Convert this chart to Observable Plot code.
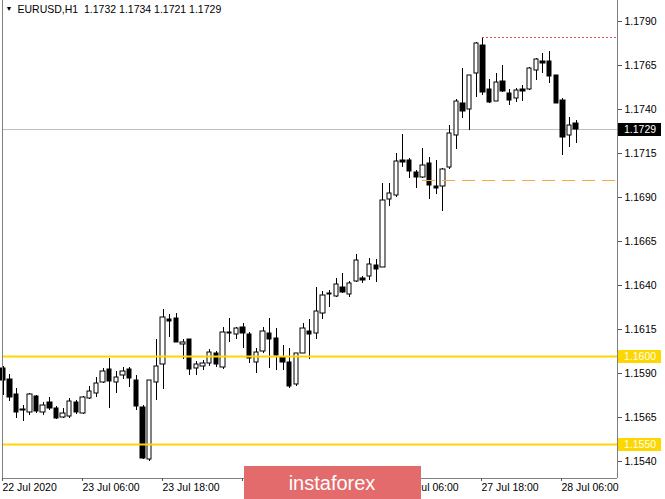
<!DOCTYPE html>
<html>
<head>
<meta charset="utf-8">
<script src="https://cdn.jsdelivr.net/npm/d3@7"></script>
<script src="https://cdn.jsdelivr.net/npm/@observablehq/plot@0.6"></script>
<style>
  html, body { margin: 0; padding: 0; background: #fff; }
  #chart svg { display: block; }
</style>
</head>
<body>
<div id="chart"></div>
<script>
// EURUSD H1 bars, 22 Jul 2020 18:00 -> 28 Jul 2020 08:00 (87 bars)
const open = [
  1.15929,1.15867,1.15781,1.15690,1.15679,1.15770,1.15679,1.15735,1.15701,1.15651,
  1.15656,1.15735,1.15673,1.15758,1.15787,1.15849,1.15923,1.15849,1.15889,1.15923,
  1.15861,1.15707,1.15412,1.15849,1.15952,1.16207,1.16213,1.16065,1.16094,1.15929,
  1.15941,1.15957,1.16014,1.15935,1.16128,1.16122,1.16162,1.16122,1.15963,1.16026,
  1.16128,1.16099,1.15991,1.15963,1.15838,1.16014,1.16139,1.16128,1.16241,1.16349,
  1.16338,1.16389,1.16349,1.16423,1.16440,1.16451,1.16514,1.16503,1.16889,1.16912,
  1.17110,1.17110,1.17042,1.17014,1.17093,1.16963,1.16963,1.17071,1.17252,1.17434,
  1.17400,1.17605,1.17764,1.17514,1.17446,1.17559,1.17491,1.17463,1.17514,1.17514,
  1.17622,1.17673,1.17673,1.17593,1.17451,1.17252,1.17320
];
const high = [
  1.15941,1.15895,1.15815,1.15718,1.15787,1.15776,1.15735,1.15764,1.15713,1.15701,
  1.15758,1.15747,1.15770,1.15827,1.15878,1.15929,1.15985,1.15912,1.15935,1.15935,
  1.15889,1.15718,1.15861,1.16094,1.16264,1.16236,1.16241,1.16094,1.16094,1.15969,
  1.15974,1.16037,1.16026,1.16162,1.16213,1.16162,1.16185,1.16134,1.16043,1.16162,
  1.16213,1.16156,1.16060,1.16043,1.16014,1.16185,1.16207,1.16389,1.16366,1.16372,
  1.16440,1.16468,1.16423,1.16576,1.16451,1.16554,1.16548,1.16980,1.16980,1.17150,
  1.17258,1.17122,1.17054,1.17178,1.17127,1.17110,1.17065,1.17309,1.17457,1.17633,
  1.17593,1.17781,1.17809,1.17571,1.17605,1.17650,1.17514,1.17519,1.17536,1.17639,
  1.17690,1.17718,1.17729,1.17593,1.17463,1.17355,1.17340
];
const low = [
  1.15776,1.15741,1.15645,1.15628,1.15662,1.15673,1.15662,1.15690,1.15639,1.15645,
  1.15645,1.15667,1.15667,1.15752,1.15764,1.15844,1.15701,1.15787,1.15867,1.15821,
  1.15690,1.15412,1.15401,1.15747,1.15810,1.16105,1.16077,1.15980,1.15889,1.15889,
  1.15918,1.15941,1.15935,1.15923,1.16077,1.16094,1.16043,1.15957,1.15900,1.16014,
  1.15929,1.15918,1.15918,1.15815,1.15827,1.16014,1.15980,1.16094,1.16207,1.16276,
  1.16332,1.16355,1.16332,1.16417,1.16412,1.16429,1.16417,1.16503,1.16849,1.16900,
  1.17071,1.17008,1.16951,1.17008,1.16889,1.16917,1.16821,1.17059,1.17173,1.17349,
  1.17281,1.17468,1.17480,1.17434,1.17446,1.17497,1.17423,1.17440,1.17446,1.17508,
  1.17565,1.17605,1.17548,1.17434,1.17139,1.17184,1.17210
];
const close = [
  1.15861,1.15764,1.15679,1.15696,1.15781,1.15684,1.15718,1.15701,1.15645,1.15673,
  1.15741,1.15679,1.15764,1.15798,1.15844,1.15912,1.15855,1.15878,1.15912,1.15872,
  1.15713,1.15418,1.15861,1.15941,1.16219,1.16196,1.16077,1.16077,1.15923,1.15952,
  1.15957,1.16020,1.15952,1.16134,1.16134,1.16156,1.16128,1.15985,1.16020,1.16139,
  1.16094,1.16003,1.15963,1.15827,1.16014,1.16156,1.16122,1.16253,1.16344,1.16355,
  1.16406,1.16361,1.16412,1.16542,1.16429,1.16520,1.16491,1.16883,1.16923,1.17105,
  1.17099,1.17048,1.17014,1.17082,1.16969,1.16951,1.17059,1.17264,1.17446,1.17389,
  1.17593,1.17775,1.17497,1.17440,1.17553,1.17502,1.17451,1.17508,1.17502,1.17633,
  1.17684,1.17661,1.17588,1.17434,1.17241,1.17309,1.17290
];

// time axis labels (bar index -> label); 24 Jul labels sit under the watermark
const timeTickBars = [0, 12, 24, 36, 48, 60, 72, 84];
const timeLabels = ["22 Jul 2020","23 Jul 06:00","23 Jul 18:00","","","27 Jul 06:00","27 Jul 18:00","28 Jul 06:00"];
// price axis ticks
const priceTicks = [1.1540,1.1565,1.1590,1.1615,1.1640,1.1665,1.1690,1.1715,1.1740,1.1765,1.1790];
// horizontal levels
const goldLevels = [1.1600, 1.1550];
const bidLevel = 1.1729;
const dashedLevel = {price: 1.1700, fromBar: 63};
const dottedLevel = {price: 1.1781, fromBar: 72};
const titleText = "EURUSD,H1  1.1732 1.1734 1.1721 1.1729";

const candles = open.map((o, i) => ({i, open: o, high: high[i], low: low[i], close: close[i]}));
const xDomain = [-0.1, 92.2];
const yDomain = [1.15305, 1.1802];
const labelByBar = new Map(timeTickBars.map((b, k) => [b, timeLabels[k]]));

const chart = Plot.plot({
  width: 665,
  height: 499,
  marginTop: 0,
  marginLeft: 2,
  marginRight: 48,
  marginBottom: 21,
  style: {fontFamily: "'Liberation Sans', Arial, sans-serif", fontSize: "10.5px", background: "#fff", color: "#000"},
  x: {domain: xDomain, round: true, axis: null},
  y: {domain: yDomain, round: true, axis: null},
  marks: [
    Plot.ruleY([bidLevel], {stroke: "#c0c0c0", strokeWidth: 1}),
    Plot.ruleX(candles, {x: "i", y1: "low", y2: "high", stroke: "#000", strokeWidth: 1}),
    Plot.rect(candles, {
      x1: d => d.i - 0.33, x2: d => d.i + 0.33,
      y1: "open", y2: "close",
      fill: d => d.close < d.open ? "#000" : "#fff",
      stroke: "#000", strokeWidth: 1
    }),
    Plot.ruleY(goldLevels, {stroke: "#ffd700", strokeWidth: 2}),
    Plot.ruleY([dashedLevel], {y: "price", x1: "fromBar", x2: () => xDomain[1], stroke: "#f5a742", strokeWidth: 1, strokeDasharray: "13,7"}),
    Plot.ruleY([dottedLevel], {y: "price", x1: "fromBar", x2: () => xDomain[1], stroke: "#e8504a", strokeWidth: 1, strokeDasharray: "2,2"}),
    Plot.ruleX([xDomain[0], xDomain[1]], {stroke: "#808080"}),
    Plot.ruleY([yDomain[0]], {stroke: "#808080"}),
    Plot.axisY({anchor: "right", ticks: priceTicks, tickFormat: d => d.toFixed(4), tickSize: 4, tickPadding: 3, stroke: "#555"}),
    Plot.axisX({anchor: "bottom", ticks: timeTickBars, tickFormat: d => labelByBar.get(d), tickSize: 3, tickPadding: 2, textAnchor: "start", dx: -1, stroke: "#555"}),
    Plot.text([titleText], {frameAnchor: "top-left", dx: 15, dy: 5, textAnchor: "start", lineAnchor: "top", fontSize: 10.5, fill: "#000"}),
    Plot.text(["▼"], {frameAnchor: "top-left", dx: 3, dy: 6, textAnchor: "start", lineAnchor: "top", fontSize: 7, fill: "#000"})
  ]
});

document.getElementById("chart").appendChild(chart);

// price label boxes on the right axis, positioned with the plot's y scale
const ys = chart.scale("y");
const yPix = ys.apply ? (v => ys.apply(v)) : d3.scaleLinear(ys.domain, ys.range);
const svg = d3.select(chart.tagName.toLowerCase() === "svg" ? chart : chart.querySelector("svg"));
const boxes = [
  ...goldLevels.map(v => ({v, fill: "#ffd700"})),
  {v: bidLevel, fill: "#000"}
];
const g = svg.append("g")
  .attr("font-family", "'Liberation Sans', Arial, sans-serif")
  .attr("font-size", 10.5)
  .attr("text-anchor", "start");
for (const b of boxes) {
  const y = Math.round(yPix(b.v));
  g.append("rect").attr("x", 618).attr("y", y - 6).attr("width", 43).attr("height", 13).attr("fill", b.fill);
  g.append("text").attr("x", 624).attr("y", y).attr("dy", "0.35em").attr("text-anchor", "start")
    .attr("fill", "#fff").text(b.v.toFixed(4));
}
// instaforex watermark
const logo = svg.append("g");
logo.append("rect").attr("x", 244).attr("y", 466).attr("width", 177).attr("height", 33).attr("fill", "#e36b6b");
logo.append("text").attr("x", 332).attr("y", 483).attr("dy", "0.35em").attr("text-anchor", "middle")
  .attr("fill", "#fff").attr("font-family", "'Liberation Sans', Arial, sans-serif").attr("font-size", 20).text("instaforex");
</script>
</body>
</html>
